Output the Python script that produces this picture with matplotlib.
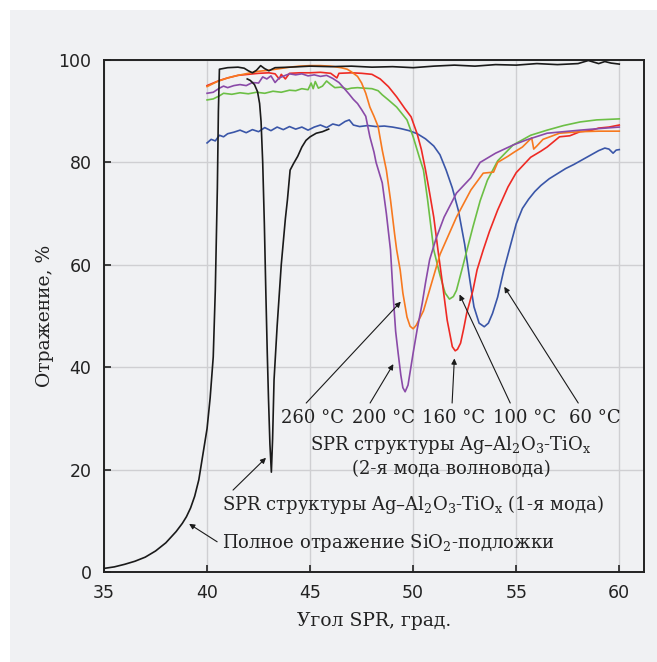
import matplotlib
matplotlib.use("Agg")
import matplotlib.pyplot as plt
from matplotlib.patches import Rectangle

plt.rcParams['font.family'] = ['DejaVu Serif']
plt.rcParams['mathtext.fontset'] = 'dejavuserif'

# total reflection of the SiO2 substrate
sio2_x = [35.0, 35.5, 36.0, 36.5, 37.0, 37.5, 38.0, 38.5, 38.8, 39.0, 39.2, 39.4, 39.6, 39.8,
          40.0, 40.15, 40.3, 40.4, 40.5, 40.55, 40.6, 41.0, 41.5, 41.8, 42.0, 42.2, 42.4, 42.6,
          42.8, 43.0, 43.3, 44.0, 45.0, 46.0, 47.0, 48.0, 49.0, 50.0, 51.0, 52.0, 53.0, 54.0,
          55.0, 56.0, 57.0, 58.0, 58.5, 59.0, 59.3, 59.6, 60.0]
sio2_y = [0.7, 1.0, 1.5, 2.1, 2.9, 4.1, 5.7, 7.9, 9.5, 10.8, 12.5, 14.8, 18.0, 23.0,
          28.0, 34.0, 42.0, 55.0, 75.0, 90.0, 98.2, 98.5, 98.6, 98.4, 97.9, 97.5, 98.0, 98.9,
          98.3, 97.9, 98.5, 98.6, 98.8, 98.7, 98.8, 98.6, 98.7, 98.5, 98.8, 99.0, 98.8, 99.1,
          99.0, 99.3, 99.1, 99.3, 99.9, 99.3, 99.7, 99.4, 99.2]

# 1st mode SPR
mode1_x = [41.95, 42.1, 42.3, 42.45, 42.55, 42.62, 42.7, 42.78, 42.85, 42.92, 42.98, 43.05, 43.12,
           43.18, 43.25, 43.4, 43.6, 43.8, 43.9, 44.03, 44.2, 44.4, 44.6, 44.8, 45.0, 45.3, 45.6, 45.9]
mode1_y = [96.3, 96.0, 95.2, 93.8, 91.5, 88.0, 80.0, 68.0, 55.0, 43.0, 34.0, 25.0, 19.5,
           26.0, 37.5, 48.0, 60.0, 69.0, 72.7, 78.5, 79.8, 81.2, 83.0, 84.3, 85.0, 85.7, 86.0, 86.5]

# 2nd mode, 60 C
blue_x = [40.0, 40.2, 40.4, 40.6, 40.8, 41.0, 41.3, 41.6, 41.9, 42.2, 42.5, 42.8, 43.1, 43.4, 43.7,
          44.0, 44.3, 44.6, 44.9, 45.2, 45.5, 45.8, 46.1, 46.4, 46.7, 46.9, 47.1, 47.4, 47.8, 48.2,
          48.6, 49.0, 49.4, 49.8, 50.2, 50.6, 51.0, 51.3, 51.6, 51.9, 52.2, 52.5, 52.75, 52.95, 53.2,
          53.45, 53.65, 53.85, 54.1, 54.4, 54.7, 55.0, 55.3, 55.6, 55.9, 56.2, 56.6, 57.0, 57.4, 57.8,
          58.2, 58.6, 59.0, 59.3, 59.5, 59.7, 59.85, 60.0]
blue_y = [83.8, 84.5, 84.2, 85.3, 85.0, 85.6, 85.9, 86.3, 85.8, 86.4, 86.0, 86.8, 86.2, 86.9, 86.4,
          87.0, 86.5, 86.9, 86.3, 86.9, 87.3, 86.8, 87.5, 87.2, 88.0, 88.3, 87.3, 87.0, 87.2, 87.0,
          87.1, 86.9, 86.6, 86.2, 85.6, 84.6, 83.2, 81.5, 78.5, 75.0, 70.5, 64.0, 57.0, 51.8, 48.6,
          47.9, 48.6, 50.5, 53.7, 59.0, 63.5, 68.0, 71.0, 72.8, 74.3, 75.5, 76.8, 77.8, 78.8, 79.6,
          80.5, 81.4, 82.3, 82.8, 82.6, 81.8, 82.4, 82.5]

# 2nd mode, 100 C
green_x = [40.0, 40.3, 40.6, 40.8, 41.2, 41.6, 42.0, 42.4, 42.8, 43.2, 43.6, 44.0, 44.3, 44.6, 44.9,
           45.05, 45.15, 45.25, 45.4, 45.6, 45.8, 46.0, 46.2, 46.5, 46.8, 47.0, 47.3, 47.6, 48.0,
           48.3, 48.5, 48.8, 49.2, 49.7, 50.0, 50.3, 50.5, 50.7, 51.0, 51.3, 51.55, 51.76, 51.95,
           52.1, 52.4, 52.9, 53.25, 53.6, 54.1, 54.85, 55.7, 56.5, 57.3, 58.1, 58.9, 60.0]
green_y = [92.2, 92.4, 93.0, 93.5, 93.3, 93.6, 93.4, 93.7, 93.5, 93.9, 93.7, 94.1, 94.0, 94.4, 94.2,
           95.5, 94.4, 95.8, 94.5, 94.9, 95.9, 95.2, 94.6, 94.7, 94.3, 94.5, 94.6, 94.5, 94.4,
           94.0, 93.2, 92.2, 90.8, 88.3, 85.0, 81.0, 78.5, 72.7, 62.9, 58.0, 54.5, 53.3, 53.8,
           55.0, 59.6, 67.4, 72.5, 76.5, 80.3, 83.4, 85.3, 86.3, 87.2, 87.9, 88.3, 88.5]

# 2nd mode, 160 C
red_x = [40.0, 40.3, 40.6, 41.0, 41.5, 42.0, 42.5, 43.0, 43.3, 43.5, 43.6, 43.8, 44.0, 44.5, 45.0,
         45.5, 46.0, 46.3, 46.4, 47.0, 47.5, 48.0, 48.4, 48.8, 49.2, 49.6, 49.9, 50.2, 50.4, 50.6,
         50.8, 51.0, 51.2, 51.4, 51.65, 51.9, 52.04, 52.15, 52.3, 52.45, 52.6, 52.9, 53.1, 53.4,
         53.7, 54.1, 54.6, 55.0, 55.7, 56.2, 56.5, 57.1, 57.6, 58.1, 58.6, 59.0, 59.5, 60.0]
red_y = [95.0, 95.5, 96.0, 96.5, 97.0, 97.2, 97.4, 97.5, 97.3, 96.3, 97.2, 96.3, 97.4, 97.5, 97.5,
         97.6, 97.4, 96.5, 97.4, 97.5, 97.4, 97.2, 96.3, 94.8, 92.8, 90.5, 88.9, 85.5, 82.5, 78.5,
         74.0, 69.3, 63.0, 57.0, 49.2, 44.0, 43.2, 43.5, 44.7, 47.5, 50.6, 55.0, 59.0, 62.9,
         66.5, 70.7, 75.2, 78.0, 81.0, 82.2, 83.0, 85.0, 85.2, 86.0, 86.2, 86.7, 86.9, 87.3]

# 2nd mode, 200 C
purple_x = [40.0, 40.3, 40.6, 40.8, 41.0, 41.3, 41.6, 41.9, 42.2, 42.5, 42.7, 42.9, 43.1, 43.3, 43.5,
            43.8, 44.0, 44.3, 44.6, 44.9, 45.2, 45.5, 45.8, 46.1, 46.4, 46.6, 46.9, 47.1, 47.3, 47.5,
            47.7, 47.9, 48.1, 48.2, 48.5, 48.7, 48.9, 49.03, 49.15, 49.27, 49.4, 49.5, 49.61, 49.75,
            49.87, 50.0, 50.2, 50.44, 50.6, 50.8, 51.1, 51.5, 52.1, 52.8, 53.25, 54.0, 54.85, 55.5,
            56.5, 57.3, 58.1, 59.0, 60.0]
purple_y = [93.5, 93.7, 94.5, 94.9, 94.6, 95.0, 95.2, 95.0, 95.6, 95.5, 96.7, 96.3, 96.9, 95.6, 96.5,
            97.0, 97.3, 97.1, 97.3, 96.9, 97.1, 96.8, 97.0, 96.4, 95.6, 94.7, 93.3, 92.3, 91.5, 90.3,
            89.0, 85.0, 82.0, 80.0, 76.0, 70.0, 62.9, 54.0, 47.0, 42.8, 38.5, 36.0, 35.2, 36.5,
            39.5, 42.8, 47.5, 52.5, 56.5, 61.0, 65.0, 69.3, 74.0, 77.0, 80.0, 81.8, 83.4, 84.4,
            85.7, 86.0, 86.3, 86.6, 86.9]

# 2nd mode, 260 C
orange_x = [40.0, 40.5, 41.0, 41.5, 42.0, 42.5, 43.0, 43.5, 44.0, 44.5, 45.0, 45.5, 46.0, 46.5, 46.8,
            47.0, 47.3, 47.5, 47.7, 47.9, 48.1, 48.3, 48.5, 48.7, 48.9, 49.1, 49.2, 49.37, 49.5,
            49.7, 49.85, 50.0, 50.15, 50.5, 50.9, 51.3, 52.1, 52.8, 53.4, 53.9, 54.1, 54.6, 54.9,
            55.3, 55.6, 55.75, 55.85, 56.0, 56.3, 57.1, 58.1, 59.0, 60.0]
orange_y = [94.8, 95.8, 96.5, 97.0, 97.4, 97.8, 98.0, 98.3, 98.6, 98.8, 98.9, 98.9, 98.8, 98.5, 98.2,
            97.7, 96.8, 95.5, 93.5, 90.8, 89.0, 87.0, 82.4, 78.5, 72.7, 66.0, 62.9, 59.0, 54.5,
            49.8, 48.0, 47.5, 48.2, 51.0, 56.5, 62.0, 69.3, 74.6, 77.9, 78.1, 80.0, 81.2, 82.0,
            83.0, 84.2, 84.8, 82.6, 83.2, 84.5, 85.7, 86.0, 86.1, 86.1]

curves = [
    (blue_x, blue_y, '#3a56a8'),
    (green_x, green_y, '#6cbf45'),
    (red_x, red_y, '#ee2a24'),
    (orange_x, orange_y, '#f7791f'),
    (purple_x, purple_y, '#8a4aa8'),
    (sio2_x, sio2_y, '#1a1a1a'),
    (mode1_x, mode1_y, '#1a1a1a'),
]

temp_labels = ['260 °C', '200 °C', '160 °C', '100 °C', '60 °C']
temp_label_x = [45.14, 48.54, 51.94, 55.39, 58.83]

fig = plt.figure(figsize=(6.57, 6.62), dpi=100, facecolor='white')
card = Rectangle((10 / 657, 0), 1, 1 - 10 / 662, transform=fig.transFigure,
                 facecolor='#f0f1f3', edgecolor='none', zorder=-10)
fig.add_artist(card)
ax = fig.add_axes([104 / 657, 90 / 662, 540 / 657, 512 / 662])
ax.set_zorder(1)
ax.set_facecolor('#f0f1f3')

for x, y, c in curves:
    ax.plot(x, y, color=c, lw=1.2, zorder=3)

ax.set_xlim(35, 61.2)
ax.set_ylim(0, 100)
ax.set_xticks([35, 40, 45, 50, 55, 60])
ax.set_yticks([0, 20, 40, 60, 80, 100])
ax.grid(True, color='#cfcfd2', lw=1.0, zorder=1)
for s in ax.spines.values():
    s.set_color('#222222')
    s.set_linewidth(1.4)
ax.tick_params(direction='in', length=5, width=1.2, color='#222222', pad=9)
for lab in ax.get_xticklabels() + ax.get_yticklabels():
    lab.set_fontfamily('DejaVu Sans')
    lab.set_fontsize(12.5)
    lab.set_color('#222222')

ax.set_xlabel('Угол SPR, град.', fontsize=13.5, labelpad=7, color='#222222')
ax.set_ylabel('Отражение, %', fontsize=13.5, labelpad=3, color='#222222')

arrow = dict(arrowstyle='-|>', color='#1a1a1a', lw=0.8, mutation_scale=8, shrinkA=0, shrinkB=0)
fs = 13
tc = '#222222'

ax.annotate('', xy=(39.13, 9.4), xytext=(40.49, 5.9), arrowprops=arrow, zorder=4)
ax.text(40.73, 5.7, 'Полное отражение SiO$_2$-подложки', fontsize=fs, color=tc,
        ha='left', va='center', zorder=4)

ax.annotate('', xy=(42.86, 22.3), xytext=(41.26, 16.0), arrowprops=arrow, zorder=4)
ax.text(40.73, 13.1, 'SPR структуры Ag–Al$_2$O$_3$-TiO$_\\mathrm{x}$ (1-я мода)', fontsize=fs,
        color=tc, ha='left', va='center', zorder=4)

heads = [(49.40, 52.8), (49.04, 40.6), (52.0, 41.7), (52.25, 54.2), (54.42, 55.7)]
tails = [44.81, 47.91, 51.89, 54.71, 58.01]
for lab, lx, head, tx in zip(temp_labels, temp_label_x, heads, tails):
    ax.annotate('', xy=head, xytext=(tx, 33.0), arrowprops=arrow, zorder=4)
    ax.text(lx, 30.1, lab, fontsize=fs, color=tc, ha='center', va='center', zorder=4)

ax.text(51.84, 24.8, 'SPR структуры Ag–Al$_2$O$_3$-TiO$_\\mathrm{x}$', fontsize=fs, color=tc,
        ha='center', va='center', zorder=4)
ax.text(51.84, 20.1, '(2-я мода волновода)', fontsize=fs, color=tc,
        ha='center', va='center', zorder=4)

fig.savefig('out.png', dpi=100, facecolor=fig.get_facecolor())
